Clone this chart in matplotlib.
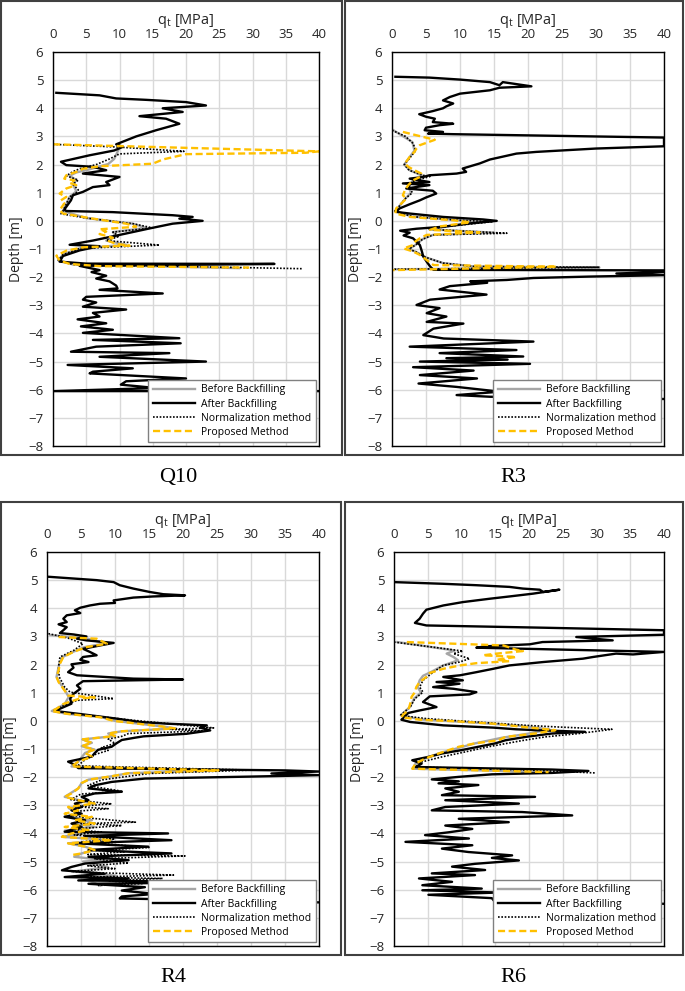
import numpy as np
import matplotlib.pyplot as plt
from matplotlib.patches import Rectangle

plt.rcParams['font.family'] = ['Open Sans', 'DejaVu Sans']

# ---- data: [q_t (MPa), depth (m)] ----
q10_after = np.array([
    [0.5, 4.55], [7, 4.46], [9.5, 4.35], [14, 4.3], [20, 4.22], [23, 4.1], [16.5, 4.0], [19.5, 3.87],
    [13, 3.72], [17, 3.63], [19, 3.45], [15.5, 3.22], [12.5, 3.0], [9.5, 2.72], [10.5, 2.63], [9.2, 2.5],
    [5.5, 2.33], [1.2, 2.1], [2, 1.98], [6, 1.92], [8, 1.8], [4.5, 1.68], [10, 1.56], [8, 1.38],
    [8.5, 1.27], [6, 1.2], [4.5, 1.03], [3, 0.91], [2.7, 0.73], [1.7, 0.4], [2.0, 0.35], [9, 0.31],
    [18, 0.2], [21, 0.14], [19, 0.08], [22.5, 0.0], [18, -0.1], [14.5, -0.27], [10, -0.5], [6, -0.7],
    [2.5, -0.85], [7, -0.9], [4, -1.05], [1.5, -1.25], [1.0, -1.45], [5, -1.52], [33.3, -1.53], [4, -1.6],
    [7, -1.75], [5.8, -1.82], [8, -1.95], [6.5, -2.05], [8.5, -2.15], [9.5, -2.3], [9.7, -2.4], [7, -2.45],
    [16.5, -2.58], [5, -2.7], [4.5, -2.8], [6.5, -2.9], [4.5, -3.05], [11, -3.15], [6, -3.27], [7, -3.4],
    [3.7, -3.5], [8, -3.64], [4.2, -3.75], [9, -3.87], [4.5, -3.98], [19, -4.17], [6, -4.23], [19.2, -4.35],
    [6.5, -4.47], [2.7, -4.65], [17.5, -4.7], [7, -4.83], [23, -5.0], [2.2, -5.12], [12, -5.24], [6, -5.36],
    [5.5, -5.42], [20, -5.6], [11, -5.7], [10.2, -5.82], [15.5, -5.94], [0.1, -6.05], [40, -6.05]])
q10_before = np.array([
    [10, 2.62], [9.6, 2.4], [9.2, 2.2], [8.3, 2.02], [6.5, 1.9], [5, 1.8], [3.5, 1.72], [2.5, 1.6],
    [3.5, 1.45], [3, 1.3], [3.5, 1.05], [2.5, 0.85], [2, 0.6], [1.5, 0.35], [5, 0.1], [12, -0.1],
    [14, -0.25], [9, -0.4], [9.5, -0.55], [8, -0.7], [11, -0.85], [4, -0.98], [1.5, -1.2], [0.8, -1.4],
    [3, -1.55], [28, -1.68]])
q10_norm = np.array([
    [0, 2.72], [10, 2.62], [19.7, 2.47], [10, 2.38], [8.5, 2.2], [6.5, 2.0], [4, 1.85], [3, 1.75],
    [2, 1.6], [3.8, 1.45], [3, 1.3], [3.8, 1.1], [3.5, 1.0], [2.5, 0.85], [2.0, 0.6], [1.5, 0.35],
    [1.2, 0.25], [5, 0.1], [12, -0.1], [15, -0.25], [9, -0.4], [10, -0.55], [8, -0.7], [16, -0.86],
    [4, -0.98], [1.5, -1.2], [0.8, -1.4], [3, -1.55], [37.5, -1.7]])
q10_prop = np.array([
    [0, 2.72], [9.5, 2.66], [40, 2.47], [38, 2.42], [20, 2.37], [16.5, 2.18], [15, 2.03], [7, 1.94],
    [4.5, 1.85], [3.5, 1.74], [2, 1.62], [1.7, 1.5], [3.2, 1.44], [2.5, 1.35], [3.5, 1.27], [2, 1.15],
    [1, 0.97], [2, 0.85], [1.2, 0.73], [1.7, 0.62], [1.0, 0.38], [1.5, 0.26], [6, 0.08], [11, -0.1],
    [12.5, -0.21], [7, -0.3], [8, -0.38], [7, -0.47], [9, -0.6], [8.2, -0.7], [9.5, -0.82], [11.5, -0.88],
    [4.5, -0.94], [2, -1.06], [0.5, -1.24], [1, -1.41], [2.5, -1.53], [7, -1.61], [29.5, -1.66]])

r3_after = np.array([
    [0.5, 5.12], [5.5, 5.09], [10, 5.02], [14.4, 4.93], [15.8, 4.82], [16.3, 4.93], [20.5, 4.78], [15.8, 4.73],
    [14.4, 4.64], [10, 4.52], [8.5, 4.4], [7.5, 4.28], [9, 4.17], [8, 4.07], [7.5, 4.0], [6, 3.9],
    [4, 3.79], [5, 3.7], [6.3, 3.63], [6, 3.51], [7.5, 3.48], [9, 3.45], [7, 3.4], [5, 3.31],
    [4.8, 3.22], [7.5, 3.16], [5.3, 3.1], [9, 3.08], [40, 2.96], [40, 2.65], [30, 2.57], [21.2, 2.45],
    [18.3, 2.39], [14.4, 2.18], [12.9, 2.04], [10.4, 1.86], [10.9, 1.74], [9.5, 1.68], [5.5, 1.62], [4.6, 1.56],
    [2.6, 1.5], [5.5, 1.38], [1.6, 1.33], [5.5, 1.27], [2.1, 1.15], [6, 1.07], [6.5, 0.97], [5, 0.83],
    [4.1, 0.73], [2.6, 0.59], [1.1, 0.44], [0.6, 0.32], [2.6, 0.26], [7.5, 0.14], [13.4, 0.05], [15.4, 0.0],
    [11.4, -0.09], [7.5, -0.21], [3.6, -0.28], [1.2, -0.35], [2.6, -0.42], [1.7, -0.52], [3.1, -0.62], [4.1, -0.86],
    [4.4, -1.09], [4.6, -1.27], [5.1, -1.45], [5.6, -1.62], [6.1, -1.74], [40, -1.76], [40, -1.82], [33, -1.87],
    [40, -1.93], [29, -1.98], [20.8, -2.03], [16.9, -2.1], [11.5, -2.15], [14, -2.2], [8.5, -2.32], [7, -2.44],
    [13.9, -2.62], [5.6, -2.8], [3.6, -2.99], [7, -3.1], [5.1, -3.28], [8, -3.4], [5.1, -3.59], [10.5, -3.65],
    [6.1, -3.83], [4.6, -4.06], [7.6, -4.18], [20.8, -4.29], [2.6, -4.47], [18.3, -4.59], [7, -4.7], [19.3, -4.82],
    [8, -4.88], [17, -4.93], [4.1, -5.0], [20.3, -5.08], [3.1, -5.2], [12, -5.32], [4.1, -5.48], [12.5, -5.6],
    [3.9, -5.78], [9.5, -5.9], [15.9, -6.07], [9.5, -6.19], [14.4, -6.25], [40, -6.33]])
r3_before = np.array([
    [0.2, 3.22], [3, 2.8], [3.3, 2.5], [2.4, 2.2], [1.8, 2.0], [2.6, 1.8], [4.5, 1.6], [3, 1.4],
    [2.4, 1.2], [2.8, 1.0], [2.0, 0.8], [1.0, 0.5], [0.5, 0.35], [3, 0.15], [10, 0.02], [14, -0.03],
    [8, -0.2], [5.5, -0.3], [15, -0.42], [6, -0.5], [4.5, -0.65], [3.5, -0.85], [2.5, -1.0], [3.5, -1.1],
    [5, -1.3], [7.5, -1.5], [12, -1.62], [30.5, -1.66], [0.5, -1.72]])
r3_norm = np.array([
    [0, 3.22], [2, 3.0], [3.1, 2.75], [3.5, 2.5], [2.5, 2.2], [1.8, 2.0], [2.5, 1.8], [4.5, 1.62],
    [5.6, 1.58], [3, 1.4], [2.5, 1.2], [3, 1.0], [2.0, 0.8], [1.0, 0.5], [0.4, 0.35], [3, 0.15],
    [10, 0.02], [14.8, -0.03], [8, -0.2], [5.5, -0.3], [16.9, -0.44], [6, -0.5], [4.5, -0.65], [3.5, -0.85],
    [2.5, -1.0], [3.5, -1.1], [5, -1.3], [7.5, -1.5], [12, -1.62], [30.5, -1.65], [0, -1.72]])
r3_prop = np.array([
    [1.6, 3.16], [6.3, 2.88], [4.1, 2.69], [3.6, 2.57], [3.3, 2.45], [2.6, 2.27], [1.9, 2.04], [2.4, 1.92],
    [3.3, 1.8], [4.3, 1.68], [4.1, 1.56], [3.1, 1.44], [2.4, 1.27], [1.9, 1.09], [1.6, 0.91], [2.1, 0.79],
    [1.4, 0.62], [0.6, 0.44], [0.5, 0.26], [2.6, 0.14], [9, 0.02], [11.5, -0.05], [7, -0.2], [5.6, -0.32],
    [12.9, -0.41], [5.1, -0.5], [4.1, -0.62], [3.4, -0.74], [3.1, -0.86], [1.7, -0.98], [3.1, -1.09], [4.1, -1.21],
    [5.1, -1.39], [6.1, -1.57], [24.2, -1.63], [0, -1.75]])

r4_after = np.array([
    [0.2, 5.12], [7.3, 5.0], [9.8, 4.93], [10.7, 4.82], [12.7, 4.7], [15.1, 4.58], [17.1, 4.5], [20.3, 4.46],
    [15.6, 4.42], [12.7, 4.38], [9.8, 4.28], [10, 4.19], [7.8, 4.16], [6.3, 4.1], [4.9, 4.02], [4.1, 3.93],
    [4.9, 3.83], [2.9, 3.75], [2.4, 3.63], [2.9, 3.51], [1.7, 3.43], [2.9, 3.33], [2.4, 3.22], [1.9, 3.12],
    [3.9, 3.07], [5.8, 3.0], [4.4, 2.92], [5.8, 2.86], [9.8, 2.77], [7.8, 2.68], [5.3, 2.56], [6.3, 2.45],
    [7.3, 2.33], [5.3, 2.27], [4.9, 2.17], [6.1, 2.09], [3.6, 2.01], [3.9, 1.89], [3.1, 1.73], [4.4, 1.62],
    [12.7, 1.5], [20, 1.47], [5.3, 1.41], [4.4, 1.26], [4.9, 1.14], [3.9, 0.96], [3.4, 0.79], [3.6, 0.61],
    [1.9, 0.43], [1.2, 0.35], [5.3, 0.23], [10.2, 0.08], [13.7, -0.04], [17.6, -0.1], [23.5, -0.16], [22.5, -0.24],
    [24, -0.34], [20.5, -0.46], [14.2, -0.55], [12.9, -0.6], [11, -0.68], [10.2, -0.8], [9.5, -0.92], [7.5, -1.03],
    [7, -1.15], [6.6, -1.27], [3.1, -1.45], [4.1, -1.56], [4.6, -1.68], [35, -1.76], [40, -1.8], [33, -1.87],
    [40, -1.93], [30, -1.98], [14.4, -2.05], [9.5, -2.17], [7, -2.29], [6.1, -2.4], [11, -2.52], [7, -2.58],
    [5.1, -2.7], [6.1, -2.82], [4.1, -2.94], [5.1, -3.06], [3.6, -3.18], [5.1, -3.3], [2.6, -3.41], [5.6, -3.53],
    [3.6, -3.65], [5.1, -3.77], [2.6, -3.94], [17.8, -4.0], [5.6, -4.09], [18.3, -4.24], [4.1, -4.35], [14.9, -4.47],
    [6.1, -4.59], [18.3, -4.71], [6.1, -4.83], [12, -4.95], [5.6, -5.07], [3.6, -5.19], [2.2, -5.31], [8.5, -5.43],
    [2.6, -5.55], [12, -5.6], [4.6, -5.67], [28.6, -5.73], [6.1, -5.79], [14.4, -5.91], [11, -6.03], [15.9, -6.15],
    [11, -6.24], [10.7, -6.31], [40, -6.45]])
r4_before = np.array([
    [0.5, 3.05], [6, 2.92], [8.5, 2.75], [5.5, 2.62], [3.8, 2.45], [2.3, 2.27], [1.8, 2.03], [1.6, 1.79],
    [1.4, 1.56], [1.8, 1.38], [2.5, 1.14], [3.2, 0.85], [2.6, 0.6], [1.4, 0.43], [0.7, 0.35], [3, 0.25],
    [8, 0.13], [10, 0.0], [17, -0.2], [19, -0.27], [11, -0.37], [9, -0.45], [10, -0.54], [5.2, -0.66],
    [6.6, -0.78], [5.1, -0.9], [7, -1.02], [5.6, -1.14], [4.6, -1.45], [3.6, -1.62], [26, -1.76], [12, -1.86],
    [9.5, -1.97], [6.1, -2.09], [5.1, -2.21], [4.6, -2.4], [2.6, -2.7], [7, -2.94], [3.2, -3.1], [4.6, -3.3],
    [2.6, -3.4], [6.6, -3.53], [4, -3.65], [7, -3.77], [2.6, -3.9], [5.6, -4.0], [2.2, -4.12], [9.5, -4.24],
    [3.1, -4.35], [5.6, -4.47], [7, -4.59], [5.1, -4.71], [4, -4.83], [8.5, -4.95], [5.3, -5.0], [9, -5.2],
    [4, -5.35], [10, -5.5], [6, -5.65], [7.8, -5.85]])
r4_norm = np.array([
    [0.2, 3.1], [3, 2.95], [5.3, 2.74], [3.9, 2.5], [1.9, 2.27], [1.7, 1.91], [1.8, 1.56], [2.6, 1.2],
    [3.4, 1.02], [9.8, 0.79], [4.4, 0.73], [2.5, 0.55], [0.9, 0.35], [4.4, 0.23], [9, 0.12], [12.7, 0.02],
    [18, -0.1], [24.5, -0.25], [18, -0.3], [23, -0.36], [12, -0.45], [11, -0.55], [9, -0.65], [10, -0.8],
    [8, -0.95], [9, -1.05], [7, -1.2], [5.5, -1.4], [4.5, -1.6], [30, -1.75], [15, -1.87], [11, -2.0],
    [8, -2.1], [6, -2.3], [11, -2.5], [5, -2.6], [3.5, -2.8], [9.5, -2.95], [4, -3.05], [9, -3.12],
    [5, -3.2], [3.5, -3.35], [6, -3.45], [13, -3.6], [5, -3.65], [11, -3.72], [3.5, -3.85], [8, -3.95],
    [4, -4.05], [10, -4.2], [5, -4.3], [15, -4.5], [7, -4.6], [11.5, -4.65], [6, -4.75], [20.3, -4.8],
    [7, -4.9], [12, -5.05], [6, -5.15], [10, -5.25], [3.5, -5.35], [8, -5.4], [18.6, -5.48], [6, -5.55],
    [17, -5.6], [9, -5.68], [14, -5.78], [7.5, -5.85]])
r4_prop = np.array([
    [1.7, 2.98], [7.3, 2.92], [8.8, 2.74], [5.8, 2.62], [3.9, 2.45], [2.4, 2.27], [1.9, 2.03], [1.7, 1.79],
    [1.4, 1.56], [1.7, 1.38], [2.4, 1.14], [3.1, 0.9], [7, 0.83], [4.9, 0.8], [2.4, 0.6], [1.4, 0.43],
    [0.7, 0.35], [2.9, 0.25], [7.8, 0.13], [9.8, 0.0], [16.9, -0.2], [18.8, -0.27], [11, -0.37], [9, -0.45],
    [10, -0.54], [5.1, -0.66], [6.6, -0.78], [5.1, -0.9], [7, -1.02], [5.6, -1.14], [6.6, -1.27], [4.6, -1.45],
    [3.6, -1.62], [25.2, -1.76], [12, -1.86], [9.5, -1.97], [6.1, -2.09], [5.1, -2.21], [4.6, -2.4], [3.6, -2.58],
    [2.6, -2.7], [4.6, -2.82], [7, -2.94], [3.1, -3.06], [4.6, -3.18], [2.6, -3.3], [6.6, -3.41], [4.1, -3.53],
    [7, -3.65], [2.6, -3.77], [6.1, -3.88], [3.6, -4.0], [2.2, -4.12], [9.5, -4.24], [3.1, -4.35], [5.6, -4.47],
    [7, -4.59], [5.1, -4.71], [3.6, -4.77]])

r6_after = np.array([
    [0, 4.93], [7.3, 4.87], [12.2, 4.82], [17.1, 4.76], [19.1, 4.7], [21.6, 4.66], [22.1, 4.58], [24.5, 4.66],
    [20.6, 4.52], [17.1, 4.42], [14.2, 4.34], [10.2, 4.22], [7.3, 4.1], [4.8, 3.95], [4.3, 3.81], [3.8, 3.63],
    [3.1, 3.48], [4.8, 3.39], [22.1, 3.31], [40, 3.22], [40, 3.06], [27, 2.98], [32.4, 2.86], [22, 2.8],
    [20.1, 2.72], [13.7, 2.65], [12.2, 2.6], [40, 2.45], [35.4, 2.36], [32.9, 2.39], [29.5, 2.27], [28, 2.21],
    [22.1, 2.09], [17.1, 1.97], [14.7, 1.85], [12.2, 1.73], [9.8, 1.62], [7.3, 1.56], [10.2, 1.44], [6.3, 1.38],
    [9.7, 1.32], [5.8, 1.2], [8.8, 1.14], [12.2, 1.02], [11.2, 0.94], [5.3, 0.87], [4.3, 0.67], [6.3, 0.49],
    [3.8, 0.37], [2.1, 0.28], [1.6, 0.16], [1.1, 0.04], [2.4, -0.04], [7.3, -0.16], [14.7, -0.24], [18.1, -0.3],
    [22.1, -0.34], [28.3, -0.39], [23.4, -0.45], [19.5, -0.57], [16.5, -0.69], [15, -0.8], [12.5, -0.92], [10, -1.04],
    [7.1, -1.16], [5.1, -1.28], [2.7, -1.4], [4.1, -1.52], [3.2, -1.64], [23.4, -1.73], [28.8, -1.78], [23.4, -1.85],
    [14.5, -1.9], [9.6, -1.99], [5.6, -2.08], [9.6, -2.15], [6.6, -2.22], [12.5, -2.28], [7.6, -2.4], [9.6, -2.52],
    [7.1, -2.64], [20.9, -2.7], [7.6, -2.82], [18.5, -2.94], [7.6, -3.06], [5.6, -3.18], [19, -3.24], [26.4, -3.36],
    [9.6, -3.48], [17, -3.6], [7.6, -3.72], [11.6, -3.84], [8.1, -3.96], [4.6, -4.06], [11.1, -4.18], [1.7, -4.3],
    [11.6, -4.42], [7.1, -4.54], [11, -4.66], [17.5, -4.78], [14.5, -4.87], [18.5, -4.96], [12, -5.08], [8.6, -5.18],
    [13.5, -5.3], [5.6, -5.42], [12, -5.48], [3.7, -5.6], [8.6, -5.72], [4.2, -5.84], [13, -5.96], [4.2, -6.02],
    [15.5, -6.1], [5.1, -6.18], [14.5, -6.3], [15, -6.45], [40, -6.5]])
r6_before = np.array([
    [0.5, 2.8], [9, 2.5], [7.8, 2.39], [8.8, 2.27], [9.5, 2.15], [7.3, 1.97], [5.6, 1.75], [4.3, 1.6],
    [3.8, 1.44], [3.5, 1.2], [4, 1.0], [3, 0.8], [2.4, 0.5], [1, 0.2], [4, 0.05], [12, -0.06],
    [19, -0.18], [23, -0.3], [20, -0.45], [16, -0.6], [12, -0.8], [9, -1.0], [6.6, -1.16], [4.6, -1.34],
    [3.2, -1.52], [2.8, -1.7], [23, -1.82]])
r6_norm = np.array([
    [0, 2.8], [10.2, 2.48], [8.8, 2.39], [11.2, 2.21], [9.7, 2.09], [7.3, 1.97], [5.8, 1.73], [4.3, 1.44],
    [3.8, 1.2], [4.3, 1.02], [3.1, 0.79], [2.4, 0.49], [0.9, 0.19], [4.8, 0.08], [12.2, -0.04], [19.6, -0.16],
    [24.5, -0.22], [32.3, -0.3], [27.4, -0.45], [22.4, -0.57], [19, -0.7], [14, -0.92], [10.6, -1.1], [7.1, -1.28],
    [4.1, -1.46], [3.2, -1.64], [20, -1.75], [29.8, -1.85]])
r6_prop = np.array([
    [1.9, 2.8], [16.2, 2.68], [18.1, 2.53], [19.1, 2.48], [15.2, 2.39], [13.2, 2.33], [18.1, 2.27], [15.2, 2.17],
    [17.1, 2.12], [12.2, 2.05], [9.8, 1.97], [7.3, 1.85], [5.3, 1.7], [4.8, 1.56], [3.8, 1.38], [3.3, 1.2],
    [3.1, 1.02], [2.6, 0.85], [2.4, 0.61], [2.1, 0.37], [1.4, 0.23], [1.1, 0.13], [3.8, 0.04], [8.8, -0.01],
    [14.7, -0.1], [20.1, -0.24], [23.9, -0.33], [20.9, -0.45], [16.5, -0.57], [15.5, -0.69], [12, -0.8], [9.6, -0.92],
    [8.1, -1.04], [6.6, -1.16], [4.6, -1.34], [3.2, -1.52], [2.7, -1.7], [22.9, -1.82]])

names = ['Q10', 'R3', 'R4', 'R6']
series_labels = ['Before Backfilling', 'After Backfilling', 'Normalization method', 'Proposed Method']

W, H = 685, 991
fig = plt.figure(figsize=(W / 100, H / 100), dpi=100)

# axes boxes in pixels (left, top, right, bottom) and panel frames
ax_px = [(53, 52, 319, 446), (392, 52, 664, 446), (47, 552, 319, 946), (394, 552, 664, 946)]
frame_px = [(1, 1, 342, 455), (345, 1, 683, 455), (1, 502, 341, 955), (345, 502, 683, 955)]
cap_px = [(178, 478), (513, 478), (173, 978), (513, 978)]

data = [(q10_before, q10_after, q10_norm, q10_prop),
        (r3_before, r3_after, r3_norm, r3_prop),
        (r4_before, r4_after, r4_norm, r4_prop),
        (r6_before, r6_after, r6_norm, r6_prop)]

for i, name in enumerate(names):
    l, t, r, b = ax_px[i]
    ax = fig.add_axes([l / W, 1 - b / H, (r - l) / W, (b - t) / H])
    before, after, norm, prop = data[i]

    ax.plot(before[:, 0], before[:, 1], color='#a6a6a6', lw=1.7, label=series_labels[0])
    ax.plot(after[:, 0], after[:, 1], color='black', lw=1.7, label=series_labels[1])
    ax.plot(norm[:, 0], norm[:, 1], color='black', lw=1.2, ls=(0, (1, 1)), label=series_labels[2])
    ax.plot(prop[:, 0], prop[:, 1], color='#ffc000', lw=1.7, ls=(0, (3, 1.5)), label=series_labels[3])

    ax.set_xlim(0, 40)
    ax.set_ylim(-8, 6)
    ax.set_xticks(np.arange(0, 41, 5))
    ax.set_yticks(np.arange(-8, 7, 1))
    ax.xaxis.tick_top()
    ax.xaxis.set_label_position('top')
    ax.tick_params(length=0, labelsize=9.5, colors='#262626')
    ax.tick_params(axis='x', pad=8)
    ax.tick_params(axis='y', pad=7)
    ax.grid(True, color='#d9d9d9', lw=1)
    ax.set_axisbelow(True)
    for s in ax.spines.values():
        s.set_color('black')
        s.set_linewidth(1.0)
    ax.set_xlabel(r'q$_\mathregular{t}$ [MPa]', fontsize=10.5, labelpad=3, color='#262626')
    ax.set_ylabel('Depth [m]', fontsize=10, labelpad=3, color='#262626')

    leg = ax.legend(loc='lower right', bbox_to_anchor=(0.9875, 0.009), borderaxespad=0,
                    fontsize=7.5, handlelength=4.0, handletextpad=0.6, labelspacing=0.3,
                    fancybox=False, framealpha=1, edgecolor='#808080', borderpad=0.45)
    leg.get_frame().set_linewidth(1.0)
    leg.set_zorder(5)

    fl, ft, fr, fb = frame_px[i]
    fig.add_artist(Rectangle((fl / W, 1 - fb / H), (fr - fl) / W, (fb - ft) / H,
                             transform=fig.transFigure, fill=False, ec='#404040', lw=1.5))
    cx, cy = cap_px[i]
    fig.text(cx / W, 1 - cy / H, name, ha='center', va='center', fontsize=16,
             family='Liberation Serif')

fig.savefig('out.png', dpi=100)
